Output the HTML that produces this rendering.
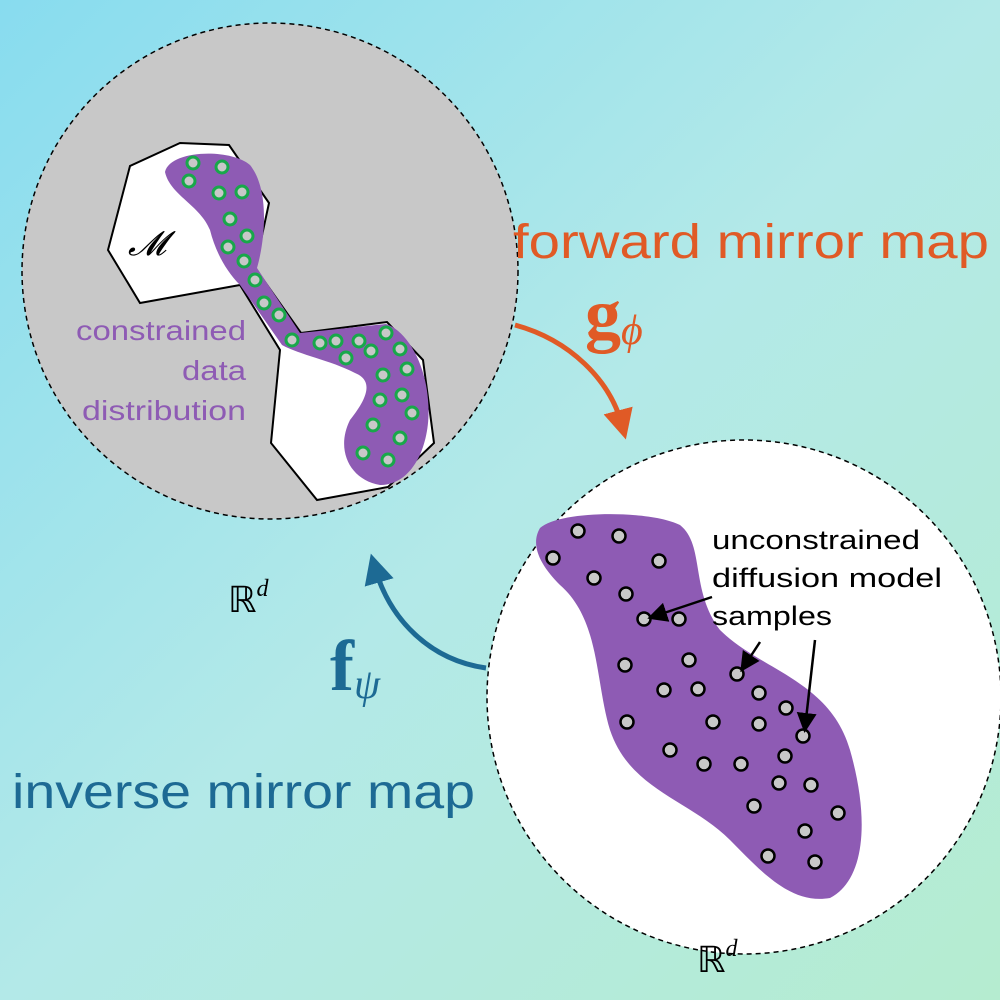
<!DOCTYPE html>
<html><head><meta charset="utf-8"><style>
body{margin:0;width:1000px;height:1000px;overflow:hidden}
svg{display:block}
.sans{font-family:"Liberation Sans",sans-serif}
.serif{font-family:"Liberation Serif",serif}
</style></head><body>
<svg width="1000" height="1000" viewBox="0 0 1000 1000">
<defs>
<linearGradient id="bg" x1="0" y1="0" x2="1" y2="1">
<stop offset="0" stop-color="#88dcef"/><stop offset="0.5" stop-color="#b3e9e8"/><stop offset="1" stop-color="#b5ecd0"/>
</linearGradient>
<marker id="ao" markerWidth="6" markerHeight="6" refX="3" refY="3" orient="auto"><path d="M0,0L6,3L0,6z" fill="#e05a26"/></marker>
<marker id="ab" markerWidth="6" markerHeight="6" refX="3" refY="3" orient="auto"><path d="M0,0L6,3L0,6z" fill="#1d6a94"/></marker>
<marker id="ak" markerWidth="8" markerHeight="8" refX="6" refY="4" orient="auto"><path d="M0,0L8,4L0,8z" fill="#000"/></marker>
</defs>
<rect width="1000" height="1000" fill="url(#bg)"/>

<circle cx="270" cy="271" r="248" fill="#c8c8c8" stroke="#000" stroke-width="1.5" stroke-dasharray="5,4"/>
<polygon points="180,143 229,145 269,203 255,268 301,333 387,322 423,360 434,443 388,487 317,500 271,443 280,350 240,285 140,303 108,250 130,166" fill="#fff" stroke="#000" stroke-width="2"/>
<path d="M165,172 C170,150 230,148 250,165 C270,190 265,240 257,268 L300,333 L386,324 C405,330 425,360 428,400 C432,440 415,485 380,485 C350,480 335,450 350,420 C370,395 372,380 355,373 C330,360 300,355 282,345 L240,285 C225,270 215,250 210,230 C200,205 170,195 165,172 Z" fill="#8e5bb4"/>
<g id="green"></g>
<text x="128" y="255" class="serif" font-style="italic" font-size="34">𝓜</text>
<g fill="#8e5bb4" font-size="28" text-anchor="end" class="sans">
<text x="246" y="340" textLength="170" lengthAdjust="spacingAndGlyphs">constrained</text><text x="246" y="380" textLength="64" lengthAdjust="spacingAndGlyphs">data</text><text x="246" y="420" textLength="164" lengthAdjust="spacingAndGlyphs">distribution</text></g>
<text x="228" y="612" class="serif" font-size="36">ℝ<tspan font-size="24" font-style="italic" dy="-16">d</tspan></text>

<circle cx="744" cy="697" r="257" fill="#fff" stroke="#000" stroke-width="1.5" stroke-dasharray="5,4"/>
<path d="M540,528 C560,510 650,510 680,525 C705,545 690,590 720,630 C760,670 830,680 850,750 C870,820 865,880 830,898 C790,905 760,870 730,840 C690,800 630,790 610,730 C595,680 600,620 560,585 C540,565 530,545 540,528 Z" fill="#8e5bb4"/>
<g id="gray"></g>
<g font-size="27" class="sans">
<text x="712" y="549" textLength="208" lengthAdjust="spacingAndGlyphs">unconstrained</text><text x="712" y="587" textLength="230" lengthAdjust="spacingAndGlyphs">diffusion model</text><text x="712" y="625" textLength="120" lengthAdjust="spacingAndGlyphs">samples</text></g>
<g stroke="#000" stroke-width="2.5" marker-end="url(#ak)">
<line x1="712" y1="597" x2="652" y2="617"/><line x1="760" y1="642" x2="743" y2="668"/><line x1="815" y1="640" x2="805" y2="728"/></g>
<text x="697" y="972" class="serif" font-size="36">ℝ<tspan font-size="24" font-style="italic" dy="-16">d</tspan></text>

<text x="513" y="258" fill="#e05a26" font-size="48" class="sans" textLength="476" lengthAdjust="spacingAndGlyphs">forward mirror map</text>
<text x="585" y="338" fill="#e05a26" class="serif" font-weight="bold" font-size="72">g<tspan font-weight="normal" font-style="italic" font-size="42" dy="6">ϕ</tspan></text>
<path d="M515,325 C570,340 610,380 622,425" fill="none" stroke="#e05a26" stroke-width="5" marker-end="url(#ao)"/>

<text x="12" y="808" fill="#1d6a94" font-size="48" class="sans" textLength="463" lengthAdjust="spacingAndGlyphs">inverse mirror map</text>
<text x="330" y="690" fill="#1d6a94" class="serif" font-weight="bold" font-size="72">f<tspan font-weight="normal" font-style="italic" font-size="42" dy="8">ψ</tspan></text>
<path d="M486,668 C430,660 390,620 375,568" fill="none" stroke="#1d6a94" stroke-width="5" marker-end="url(#ab)"/>
</svg>
<script>
const greenX=[193,222,189,219,242,230,247,228,244,255,264,279,292,320,336,359,386,346,371,400,383,407,380,402,412,373,400,363,388];
const greenY=[163,167,181,193,192,219,236,247,261,280,303,315,340,343,341,341,333,358,351,349,375,369,400,395,413,425,438,453,460];
const grayX=[578,619,553,659,594,626,644,679,625,689,664,698,737,759,786,627,713,759,803,670,704,741,785,779,811,754,838,805,768,815];
const grayY=[531,536,558,561,578,594,619,619,665,660,690,689,674,693,708,722,722,724,736,750,764,764,756,783,785,806,813,831,856,862];
const NS='http://www.w3.org/2000/svg';
const g1=document.getElementById('green');
greenX.forEach((x,i)=>{const c=document.createElementNS(NS,'circle');
c.setAttribute('cx',x);c.setAttribute('cy',greenY[i]);c.setAttribute('r',6);
c.setAttribute('fill','#c8c8c8');c.setAttribute('stroke','#18a84a');c.setAttribute('stroke-width',3);


g1.appendChild(c);});
const g2=document.getElementById('gray');
grayX.forEach((x,i)=>{const c=document.createElementNS(NS,'circle');
c.setAttribute('cx',x);c.setAttribute('cy',grayY[i]);c.setAttribute('r',6.5);
c.setAttribute('fill','#c8c8c8');c.setAttribute('stroke','#000');c.setAttribute('stroke-width',2.5);


g2.appendChild(c);});
</script>
</body></html>
